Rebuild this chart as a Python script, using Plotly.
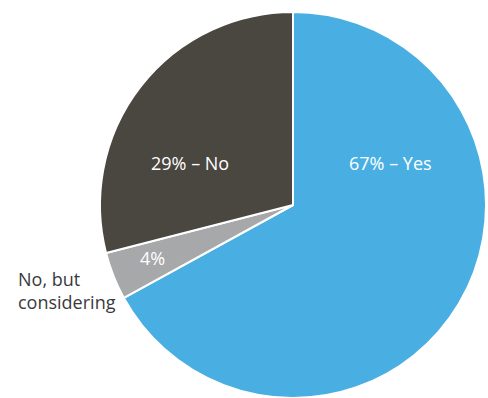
import plotly.graph_objects as go

categories = ["Yes", "No, but considering", "No"]
values = [67, 4, 29]
slice_text = ["67% – Yes", "4%", "29% – No"]
outside_label = "No, but<br>considering"
colors = ["#49AFE3", "#A7A8AA", "#4A4640"]

# label centres in pixels (x, y from top)
label_pos = [(390, 163), (152, 258), (190, 163)]
W, H = 488, 398

fig = go.Figure(go.Pie(
    labels=categories,
    values=values,
    textinfo="none",
    sort=False,
    direction="clockwise",
    rotation=0,
    marker=dict(colors=colors, line=dict(color="white", width=2)),
    domain=dict(x=[100/W, 486/W], y=[0, 386/H]),
    showlegend=False,
    hoverinfo="label+percent",
))

for t, (px, py) in zip(slice_text, label_pos):
    fig.add_annotation(
        text=t, x=px/W, y=1-py/H, xref="paper", yref="paper",
        xanchor="center", yanchor="middle", showarrow=False,
        font=dict(family="Open Sans", size=18, color="white"),
    )

fig.add_annotation(
    text=outside_label, x=16/W, y=1-290/H, xref="paper", yref="paper",
    xanchor="left", yanchor="middle", align="left", showarrow=False,
    font=dict(family="Open Sans", size=18, color="#3A3A3A"),
)

fig.update_layout(
    width=W, height=H,
    margin=dict(l=0, r=0, t=0, b=0),
    paper_bgcolor="white",
)
fig.write_html("out.html")
